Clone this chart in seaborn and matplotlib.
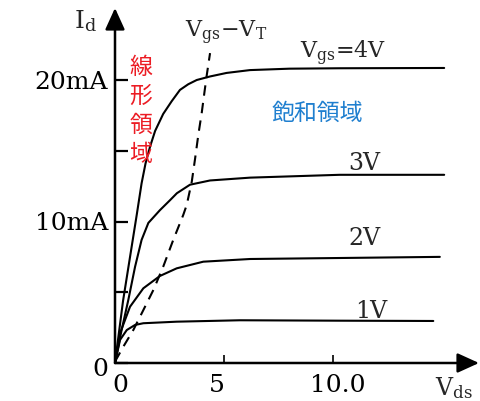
import numpy as np
import pandas as pd
import matplotlib
matplotlib.use("Agg")
import matplotlib.pyplot as plt
import matplotlib.transforms as mtransforms
import seaborn as sns

# Drain current Id [mA] versus drain-source voltage Vds [V], one curve per Vgs
vds_4v = [0, 0.37, 0.69, 1.0, 1.22, 1.40, 1.61, 1.84, 2.21, 2.60, 2.98, 3.36, 3.75, 4.36, 5.12, 6.19, 8.0, 10.3, 15.1]
id_4v = [0, 4.4, 7.5, 10.5, 12.7, 14.1, 15.3, 16.4, 17.6, 18.5, 19.3, 19.7, 20.0, 20.25, 20.5, 20.7, 20.8, 20.83, 20.85]

vds_3v = [0, 0.3, 0.61, 0.92, 1.22, 1.53, 2.06, 2.52, 2.84, 3.44, 4.36, 6.2, 10.3, 15.1]
id_3v = [0, 2.3, 4.45, 6.8, 8.7, 9.9, 10.8, 11.5, 12.0, 12.6, 12.9, 13.1, 13.3, 13.3]

vds_2v = [0, 0.23, 0.69, 1.3, 2.06, 2.83, 4.05, 6.2, 10.3, 14.9]
id_2v = [0, 2.1, 3.98, 5.28, 6.15, 6.69, 7.16, 7.35, 7.42, 7.5]

vds_1v = [0, 0.23, 0.54, 0.92, 1.3, 2.83, 5.73, 10.3, 14.6]
id_1v = [0, 1.63, 2.33, 2.69, 2.81, 2.92, 3.02, 2.99, 2.97]

# Boundary between linear and saturation regions (Vds = Vgs - VT)
vds_sat = [0, 0.38, 0.84, 1.3, 1.76, 2.21, 2.67, 3.13, 3.29, 3.52, 3.67, 3.82, 3.98, 4.10, 4.21, 4.36]
id_sat = [0.1, 1.15, 2.33, 3.74, 5.16, 6.8, 8.69, 10.46, 11.17, 12.8, 14.4, 16.1, 17.7, 19.1, 20.35, 21.9]

curve_labels = ["4V", "3V", "2V", "1V"]

y_ticks = [0, 5, 10, 15, 20]
y_tick_labels = ["0", "", "10mA", "", "20mA"]
x_ticks = [0, 5, 10]
x_tick_labels = ["0", "5", "10.0"]

curves = pd.concat(
    [
        pd.DataFrame({"vds": v, "id": i, "vgs": lab})
        for v, i, lab in zip(
            [vds_4v, vds_3v, vds_2v, vds_1v],
            [id_4v, id_3v, id_2v, id_1v],
            curve_labels,
        )
    ],
    ignore_index=True,
)
boundary = pd.DataFrame({"vds": vds_sat, "id": id_sat})

sns.set_theme(style="white")
serif = ["DejaVu Serif", "Liberation Serif"]
plt.rcParams["font.family"] = serif
plt.rcParams["mathtext.fontset"] = "custom"
plt.rcParams["mathtext.rm"] = "DejaVu Serif"
plt.rcParams["mathtext.it"] = "DejaVu Serif:italic"

W, H = 481, 401
fig = plt.figure(figsize=(W / 100, H / 100), dpi=100)
ax = fig.add_axes([115 / W, 38 / H, 364 / W, 355 / H])
ax.set_xlim(0, 364 / 21.8)
ax.set_ylim(0, 355 / 14.15)

for lab in curve_labels:
    sub = curves[curves["vgs"] == lab]
    sns.lineplot(data=sub, x="vds", y="id", color="black", lw=1.5,
                 sort=False, ax=ax, clip_on=False)
sns.lineplot(data=boundary, x="vds", y="id", color="black", lw=1.5,
             sort=False, ax=ax, linestyle=(0, (5, 3.5)))

for s in ax.spines.values():
    s.set_visible(False)

arrow = dict(arrowstyle="-|>,head_length=1.1,head_width=0.5", lw=1.8,
             color="black", shrinkA=0, shrinkB=0)
ax.annotate("", xy=(1, 0), xycoords="axes fraction", xytext=(0, 0), arrowprops=arrow)
ax.annotate("", xy=(0, 1), xycoords="axes fraction", xytext=(0, 0), arrowprops=arrow)

ax.set_yticks(y_ticks, labels=y_tick_labels)
ax.set_xticks(x_ticks, labels=x_tick_labels)
ax.tick_params(axis="y", direction="in", length=9.5, width=1.6, pad=5,
               labelsize=18, left=True, colors="black")
ax.tick_params(axis="x", direction="in", length=6, width=1.2, pad=8,
               labelsize=18, bottom=True, colors="black")

# small hand-set nudges of the tick labels, in pixels
for t, dx in zip(ax.get_xticklabels(), [5, -7, 5]):
    t.set_transform(t.get_transform()
                    + mtransforms.ScaledTranslation(dx / 100, 0, fig.dpi_scale_trans))
ylab0 = ax.get_yticklabels()[0]
ylab0.set_transform(ylab0.get_transform()
                    + mtransforms.ScaledTranslation(0, -4 / 100, fig.dpi_scale_trans))

ax.set_xlabel("")
ax.set_ylabel("")
ax.grid(False)

ax.text(-1.9, 24.2, r"I$_{\mathrm{d}}$", fontsize=18, family=serif,
        ha="left", va="center")
ax.text(14.7, -2.26, r"V$_{\mathrm{ds}}$", fontsize=17, family=serif,
        ha="left", va="baseline")
ax.text(3.21, 23.0, "V$_{\\mathrm{gs}}$\u2212V$_{\\mathrm{T}}$", fontsize=16,
        family=serif, ha="left", va="baseline")
ax.text(8.49, 21.55, r"V$_{\mathrm{gs}}$=4V", fontsize=16, family=serif,
        ha="left", va="baseline")
ax.text(10.69, 13.64, "3V", fontsize=17, family=serif, ha="left", va="baseline")
ax.text(10.69, 8.34, "2V", fontsize=17, family=serif, ha="left", va="baseline")
ax.text(11.0, 3.18, "1V", fontsize=17, family=serif, ha="left", va="baseline")

cjk = ["Noto Sans CJK JP", "DejaVu Sans"]
ax.text(1.19, 17.8, "\n".join("線形領域"), fontsize=16.5, family=cjk,
        color="#ec1c24", ha="center", va="center", linespacing=1.33)
ax.text(7.2, 17.67, "飽和領域", fontsize=16.5, family=cjk,
        color="#1f7fcf", ha="left", va="center")

fig.savefig("out.png", dpi=100)
